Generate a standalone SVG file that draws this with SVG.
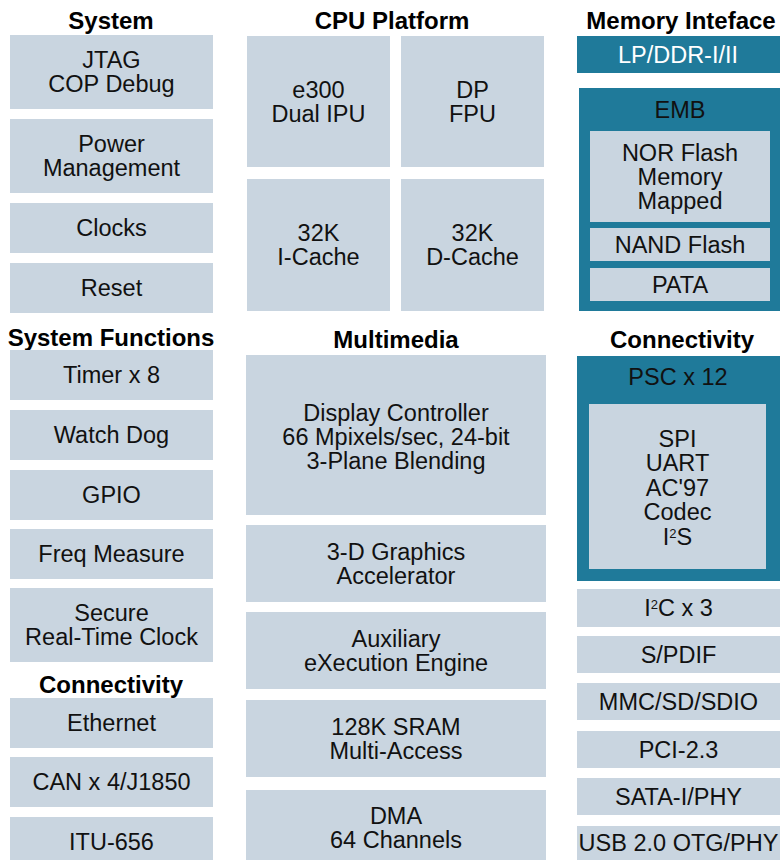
<svg xmlns="http://www.w3.org/2000/svg" width="780" height="860" viewBox="0 0 780 860">
<style>
.bg{fill:#ffffff}
.box{fill:#c9d5e0}
.dark{fill:#1f7a9a}
text{font-family:"Liberation Sans",Arial,Helvetica,sans-serif;font-size:23.5px;fill:#111111;text-anchor:middle}
.t{font-weight:bold;font-size:24px;fill:#000000}
.w{fill:#ffffff}
.sup{font-size:13px}
</style>
<rect class="bg" x="0" y="0" width="780" height="860"/>
<g id="titles">
<text class="t" x="111" y="29">System</text>
<text class="t" x="392" y="29">CPU Platform</text>
<text class="t" x="681" y="29">Memory Inteface</text>
<text class="t" x="111" y="346">System Functions</text>
<text class="t" x="396" y="348">Multimedia</text>
<text class="t" x="682" y="348">Connectivity</text>
<text class="t" x="111" y="693">Connectivity</text>
</g>
<g id="connectors"></g>
<g id="jtag"><rect class="box" x="10" y="35" width="203" height="74"/><text x="111.5" y="68">JTAG</text><text x="111.5" y="92">COP Debug</text></g>
<g id="power"><rect class="box" x="10" y="119" width="203" height="74"/><text x="111.5" y="152">Power</text><text x="111.5" y="176">Management</text></g>
<g id="clocks"><rect class="box" x="10" y="203" width="203" height="50"/><text x="111.5" y="236">Clocks</text></g>
<g id="reset"><rect class="box" x="10" y="263" width="203" height="50"/><text x="111.5" y="296">Reset</text></g>
<g id="timer"><rect class="box" x="10" y="350" width="203" height="50"/><text x="111.5" y="383">Timer x 8</text></g>
<g id="watchdog"><rect class="box" x="10" y="410" width="203" height="50"/><text x="111.5" y="443">Watch Dog</text></g>
<g id="gpio"><rect class="box" x="10" y="470" width="203" height="50"/><text x="111.5" y="503">GPIO</text></g>
<g id="freq"><rect class="box" x="10" y="529" width="203" height="50"/><text x="111.5" y="562">Freq Measure</text></g>
<g id="rtc"><rect class="box" x="10" y="588" width="203" height="74"/><text x="111.5" y="621">Secure</text><text x="111.5" y="645">Real-Time Clock</text></g>
<g id="ethernet"><rect class="box" x="10" y="698" width="203" height="50"/><text x="111.5" y="731">Ethernet</text></g>
<g id="can"><rect class="box" x="10" y="757" width="203" height="50"/><text x="111.5" y="790">CAN x 4/J1850</text></g>
<g id="itu"><rect class="box" x="10" y="817" width="203" height="43"/><text x="111.5" y="850">ITU-656</text></g>

<g id="e300"><rect class="box" x="247" y="36" width="143" height="131"/><text x="318.5" y="97.5">e300</text><text x="318.5" y="121.5">Dual IPU</text></g>
<g id="fpu"><rect class="box" x="401" y="36" width="143" height="131"/><text x="472.5" y="97.5">DP</text><text x="472.5" y="121.5">FPU</text></g>
<g id="icache"><rect class="box" x="247" y="179" width="143" height="132"/><text x="318.5" y="241">32K</text><text x="318.5" y="265">I-Cache</text></g>
<g id="dcache"><rect class="box" x="401" y="179" width="143" height="132"/><text x="472.5" y="241">32K</text><text x="472.5" y="265">D-Cache</text></g>

<g id="display"><rect class="box" x="246" y="355" width="300" height="160"/><text x="396" y="421">Display Controller</text><text x="396" y="445">66 Mpixels/sec, 24-bit</text><text x="396" y="469">3-Plane Blending</text></g>
<g id="graphics"><rect class="box" x="246" y="525" width="300" height="77"/><text x="396" y="560">3-D Graphics</text><text x="396" y="584">Accelerator</text></g>
<g id="axe"><rect class="box" x="246" y="612" width="300" height="77"/><text x="396" y="647">Auxiliary</text><text x="396" y="671">eXecution Engine</text></g>
<g id="sram"><rect class="box" x="246" y="700" width="300" height="77"/><text x="396" y="735">128K SRAM</text><text x="396" y="759">Multi-Access</text></g>
<g id="dma"><rect class="box" x="246" y="790" width="300" height="70"/><text x="396" y="824">DMA</text><text x="396" y="848">64 Channels</text></g>

<g id="ddr"><rect class="dark" x="577" y="36" width="203" height="37"/><text class="w" x="678" y="63">LP/DDR-I/II</text></g>
<g id="emb"><rect class="dark" x="579" y="88" width="201" height="223"/><text x="680" y="118">EMB</text>
<g id="nor"><rect class="box" x="590" y="131" width="180" height="91"/><text x="680" y="161">NOR Flash</text><text x="680" y="185">Memory</text><text x="680" y="209">Mapped</text></g>
<g id="nand"><rect class="box" x="590" y="228" width="180" height="33"/><text x="680" y="252.5">NAND Flash</text></g>
<g id="pata"><rect class="box" x="590" y="268" width="180" height="33"/><text x="680" y="292.5">PATA</text></g>
</g>
<g id="psc"><rect class="dark" x="577" y="356" width="203" height="225"/><text x="678" y="385">PSC x 12</text>
<g id="psc-modes"><rect class="box" x="589" y="404" width="177" height="165"/><text x="677.5" y="446.5">SPI</text><text x="677.5" y="471">UART</text><text x="677.5" y="495.5">AC'97</text><text x="677.5" y="520">Codec</text><text x="677.5" y="545">I<tspan class="sup" dy="-7">2</tspan><tspan dy="7">S</tspan></text></g>
</g>
<g id="i2c"><rect class="box" x="577" y="589" width="203" height="38"/><text x="678.5" y="616">I<tspan class="sup" dy="-7">2</tspan><tspan dy="7">C x 3</tspan></text></g>
<g id="spdif"><rect class="box" x="577" y="636" width="203" height="37"/><text x="678.5" y="662.5">S/PDIF</text></g>
<g id="mmc"><rect class="box" x="577" y="683" width="203" height="37"/><text x="678.5" y="709.5">MMC/SD/SDIO</text></g>
<g id="pci"><rect class="box" x="577" y="731" width="203" height="37"/><text x="678.5" y="757.5">PCI-2.3</text></g>
<g id="sata"><rect class="box" x="577" y="778" width="203" height="37"/><text x="678.5" y="804.5">SATA-I/PHY</text></g>
<g id="usb"><rect class="box" x="577" y="826" width="203" height="34"/><text x="678.5" y="851">USB 2.0 OTG/PHY</text></g>
</svg>
